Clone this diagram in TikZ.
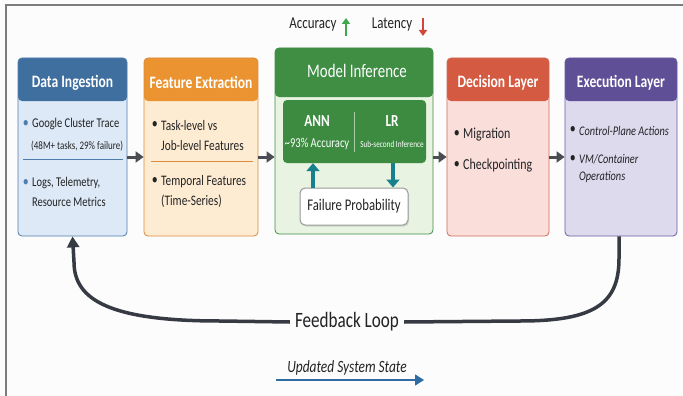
\documentclass[tikz,border=0pt]{standalone}
\usepackage{fontspec}
\setmainfont{Carlito}[FakeStretch=0.78]
\usetikzlibrary{positioning, arrows.meta, shadows}

\definecolor{ink}{HTML}{222325}
\definecolor{bgpaper}{HTML}{FCFCFC}
\definecolor{framegray}{HTML}{7C7C7C}
\definecolor{diHead}{HTML}{3F6F9F}
\definecolor{diBody}{HTML}{DDE9F6}
\definecolor{diLine}{HTML}{4E7DAD}
\definecolor{feHead}{HTML}{EA9330}
\definecolor{feBody}{HTML}{FDEBD2}
\definecolor{feLine}{HTML}{DB8B3C}
\definecolor{miHead}{HTML}{3F8E44}
\definecolor{miBody}{HTML}{E8F3E1}
\definecolor{miInner}{HTML}{3D8B41}
\definecolor{dlHead}{HTML}{D45A42}
\definecolor{dlBody}{HTML}{F9DEDA}
\definecolor{dlLine}{HTML}{CF6B5A}
\definecolor{elHead}{HTML}{5F4F97}
\definecolor{elBody}{HTML}{DEDAEE}
\definecolor{elLine}{HTML}{6B5DA3}
\definecolor{tealarrow}{HTML}{17808C}
\definecolor{flowgray}{HTML}{4B4D52}
\definecolor{loopgray}{HTML}{363A42}
\definecolor{stateblue}{HTML}{2E6DA4}
\definecolor{upgreen}{HTML}{3EA84A}
\definecolor{downred}{HTML}{D2453A}

\tikzset{font=\fontsize{15.3}{17}\selectfont, text=ink}
\tikzset{head/.style 2 args={path picture={\fill[#1] (path picture bounding box.north west) rectangle ([yshift=-#2]path picture bounding box.north east);}}}
\tikzstyle{layer} = [draw, rounded corners=4pt, line width=0.8pt, minimum height=178pt, inner sep=0pt]
\tikzstyle{title} = [text=white, font=\fontsize{17.4}{19}\selectfont\bfseries, inner sep=0pt]
\tikzstyle{txt}   = [inner sep=0pt, anchor=base west]
\tikzstyle{bul}   = [label={[inner sep=0pt, xshift=-3pt]left:\textbullet}]
\tikzstyle{dibul} = [label={[inner sep=0pt, xshift=-3pt, text=diLine]left:\textbullet}]
\tikzstyle{flow}  = [-{Triangle[length=8pt, width=11pt]}, line width=3pt, draw=flowgray]
\tikzstyle{probe} = [-{Triangle[length=8pt, width=13pt]}, line width=4.5pt, draw=tealarrow]
\tikzstyle{loopline} = [line width=3.5pt, draw=loopgray]

\begin{document}
\begin{tikzpicture}[x=1pt, y=-1pt]
	\useasboundingbox (0,0) rectangle (683,396);
	\fill[bgpaper] (0,0) rectangle (683,396);
	\draw[framegray, line width=1.5pt] (6,396) -- (6,5) -- (683,5);

	% layers
	\node [layer, draw=diLine, fill=diBody, head={diHead}{43pt}, minimum width=109pt] (di) at (72.5,147) {};
	\node [layer, draw=feLine, fill=feBody, head={feHead}{43pt}, minimum width=114pt, right of=di, node distance=128.5pt] (fe) {};
	\node [layer, draw=miHead, fill=miBody, head={miHead}{49pt}, minimum width=158pt, minimum height=186pt, right of=fe, node distance=153pt, yshift=6pt] (mi) {};
	\node [layer, draw=dlLine, fill=dlBody, head={dlHead}{43pt}, minimum width=102pt, right of=mi, node distance=144pt, yshift=-6pt] (dl) {};
	\node [layer, draw=elLine, fill=elBody, head={elHead}{43pt}, minimum width=112pt, right of=dl, node distance=123pt] (el) {};

	\node [title] (di-title) at ([yshift=-25pt]di.north) {Data Ingestion};
	\node [title] (fe-title) at ([yshift=-25pt]fe.north) {Feature Extraction};
	\node [title, font=\fontsize{19.1}{21}\selectfont] (mi-title) at ([xshift=3pt, yshift=-23pt]mi.north) {Model Inference};
	\node [title] (dl-title) at ([yshift=-25pt]dl.north) {Decision Layer};
	\node [title] (el-title) at ([yshift=-25pt]el.north) {Execution Layer};

	% data ingestion
	\node [txt, dibul, font=\fontsize{13.4}{15}\selectfont] (di-a) at (32,128) {Google Cluster Trace};
	\node [txt, font=\fontsize{11.5}{13}\selectfont] (di-a2) at (31,149) {(48M+ tasks, 29\% failure)};
	\draw [diLine, line width=1pt] (23,159) -- (123,159);
	\node [txt, dibul, font=\fontsize{13.4}{15}\selectfont] (di-b) at (32,186) {Logs, Telemetry,};
	\node [txt, font=\fontsize{13.4}{15}\selectfont] (di-b2) at ([yshift=-20pt]di-b.base west) {Resource Metrics};

	% feature extraction
	\node [txt, bul, font=\fontsize{14.5}{16}\selectfont] (fe-a) at (161,130) {Task-level vs};
	\node [txt, font=\fontsize{14.5}{16}\selectfont] (fe-a2) at ([yshift=-20pt]fe-a.base west) {Job-level Features};
	\draw [feLine, line width=1pt] (151,161) -- (253,161);
	\node [txt, bul, font=\fontsize{14.5}{16}\selectfont] (fe-b) at (161,185) {Temporal Features};
	\node [txt, font=\fontsize{14.5}{16}\selectfont] (fe-b2) at ([yshift=-20pt]fe-b.base west) {(Time-Series)};

	% model inference
	\node [fill=miInner, rounded corners=4pt, minimum width=143pt, minimum height=63pt] (core) at (354.5,131.5) {};
	\draw [white!55!miInner, line width=1pt] (354,112) -- (354,152);
	\node [title, font=\fontsize{16.9}{19}\selectfont\bfseries] (ann) at (317,121) {ANN};
	\node [text=white, inner sep=0pt, font=\fontsize{13.6}{15}\selectfont] (ann-acc) at (317,144) {\textasciitilde93\% Accuracy};
	\node [title, font=\fontsize{16.9}{19}\selectfont\bfseries] (lr) at (392,121) {LR};
	\node [text=white, inner sep=0pt, font=\fontsize{9.3}{11}\selectfont] (lr-lat) at (392,144) {Sub-second Inference};
	\node [draw=gray!80, fill=white, line width=1pt, rounded corners=5pt, minimum width=108pt, minimum height=37pt, font=\fontsize{16.3}{18}\selectfont, drop shadow={opacity=0.25, shadow xshift=1pt, shadow yshift=-1.5pt}] (fp) at (354,206.5) {Failure Probability};
	\draw [probe] ([xshift=-41pt]fp.north) -- ([xshift=-41.5pt]core.south);
	\draw [probe] ([xshift=38.5pt]core.south) -- ([xshift=39pt]fp.north);

	\node [font=\fontsize{16.6}{18}\selectfont] (acc) at (313,25) {Accuracy};
	\draw [-{Triangle[length=6pt, width=8pt]}, upgreen, line width=2.5pt] (346,36) -- (346,18);
	\node [font=\fontsize{16.6}{18}\selectfont] (lat) at (392,25) {Latency};
	\draw [-{Triangle[length=6pt, width=8pt]}, downred, line width=2.5pt] (423,18) -- (423,36);

	% decision / execution
	\node [txt, bul] (dl-a) at (463,138) {Migration};
	\node [txt, bul] (dl-b) at ([yshift=-31pt]dl-a.base west) {Checkpointing};
	\node [txt, bul, font=\itshape\fontsize{13.2}{15}\selectfont] (el-a) at (579,135) {Control-Plane Actions};
	\node [txt, bul, font=\itshape\fontsize{13.2}{15}\selectfont] (el-b) at (579,163) {VM/Container};
	\node [txt, font=\itshape\fontsize{13.2}{15}\selectfont] (el-b2) at ([yshift=-17pt]el-b.base west) {Operations};

	\draw [flow] ([yshift=-10pt]di.east) -- ([yshift=-10pt]fe.west);
	\draw [flow] ([yshift=-10pt]fe.east) -- ([yshift=-10pt]fe.east -| mi.west);
	\draw [flow] ([yshift=-10pt]dl.west -| mi.east) -- ([yshift=-10pt]dl.west);
	\draw [flow] ([yshift=-10pt]dl.east) -- ([yshift=-10pt]el.west);

	% feedback loop
	\node [font=\fontsize{21.9}{24}\selectfont, text height=14pt, text depth=3pt, inner xsep=5pt, inner ysep=0pt] (fb) at (347,322) {Feedback Loop};
	\draw [loopline] ([xshift=-2pt]el.south) -- ++(0,22) .. controls +(0,45) and +(75,0) .. (520,321) -- (fb.east);
	\draw [loopline, -{Triangle[length=11pt, width=12pt]}] (fb.west) -- (220,321) .. controls (110,321) and (74,300) .. (74,262) -- (di.south);

	\node [font=\itshape\fontsize{17.2}{19}\selectfont] (upd) at (347,368) {Updated System State};
	\coordinate (st-a) at (276,380);
	\coordinate (st-b) at (424,380);
	\draw [-{Triangle[length=9pt, width=11pt]}, stateblue, line width=1.6pt] (st-a) -- (st-b);
\end{tikzpicture}
\end{document}
